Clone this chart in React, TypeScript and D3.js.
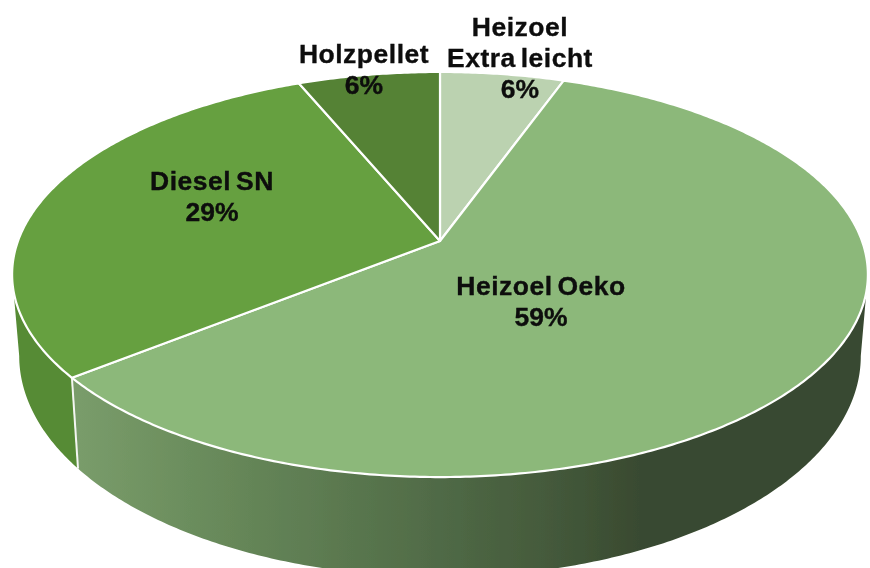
import React from "react";
import * as d3 from "d3";

const categories = ["Heizoel Extra leicht", "Heizoel Oeko", "Diesel SN", "Holzpellet"];
const shares = [5.5, 58.8, 29.4, 6.3];
const percentLabels = ["6%", "59%", "29%", "6%"];
const topColors = ["#bbd2b0", "#8cb87a", "#66a040", "#548235"];
const nameLines = [["Heizoel", "Extra leicht"], ["Heizoel Oeko"], ["Diesel SN"], ["Holzpellet"]];

const W = 870, H = 568;
const labelCenter = [
  { x: 520, y: 35.5 },
  { x: 541, y: 294.5 },
  { x: 212, y: 190 },
  { x: 364, y: 63 },
];
const lineStep = 31;

// perspective of a disc: k foreshortens far side vs near side
const k = 0.1654;
const cx = 440;
const topDisc = { apexY: 241, a: 422, b: 197 };
const lowDisc = { apexY: 319.4, a: 415, b: 214.9 };

type Disc = typeof topDisc;
const project = (d: Disc, t: number): [number, number] => {
  const u = Math.sin(t), v = Math.cos(t), den = 1 + k * v;
  return [cx + (d.a * u) / den, d.apexY - (d.b * v) / den];
};
const sample = (d: Disc, t0: number, t1: number): [number, number][] => {
  const n = Math.max(2, Math.ceil(Math.abs(t1 - t0) / 0.01));
  return d3.range(n + 1).map((i) => project(d, t0 + ((t1 - t0) * i) / n));
};
const line = d3.line();

const pie = d3.pie<number>().sort(null).value((v) => v);
const arcs = pie(shares);

const tR = Math.acos(-k);
const tL = 2 * Math.PI - tR;

function wallPath(t0: number, t1: number) {
  const a = Math.max(t0, tR), b = Math.min(t1, tL);
  if (a >= b) return null;
  return line([...sample(topDisc, a, b), ...sample(lowDisc, b, a)]) + "Z";
}

const wallFill = ["none", "url(#oekoWall)", "#568b34", "none"];
const gradStops: [number, string][] = [
  [0, "#7a9d6b"],
  [0.225, "#6a8c5c"],
  [0.577, "#54704a"],
  [0.859, "#43583a"],
  [1, "#394a30"],
];

export default function App() {
  return (
    <svg width={W} height={H} viewBox={`0 0 ${W} ${H}`} style={{ position: "fixed", left: 0, top: 0 }}>
      <defs>
        <linearGradient id="oekoWall" gradientUnits="userSpaceOnUse" x1={72} x2={640} y1={0} y2={0}>
          {gradStops.map(([o, c]) => (
            <stop key={o} offset={o} stopColor={c} />
          ))}
        </linearGradient>
        <filter id="soft" x="-5%" y="-5%" width="110%" height="110%">
          <feGaussianBlur stdDeviation="0.35" />
        </filter>
      </defs>
      <g filter="url(#soft)">
        {arcs.map((s, i) => {
          const p = wallPath(s.startAngle, s.endAngle);
          return p ? <path key={i} d={p} fill={wallFill[i]} /> : null;
        })}
        {arcs.map((s, i) =>
          s.startAngle > tR && s.startAngle < tL ? (
            <path
              key={i}
              d={line([project(topDisc, s.startAngle), project(lowDisc, s.startAngle)])!}
              stroke="#f4f6f2"
              strokeWidth={2}
              fill="none"
            />
          ) : null
        )}
        {arcs.map((s, i) => (
          <path
            key={categories[i]}
            d={line([[cx, topDisc.apexY], ...sample(topDisc, s.startAngle, s.endAngle)])! + "Z"}
            fill={topColors[i]}
            stroke="#ffffff"
            strokeWidth={2.2}
            strokeLinejoin="round"
          />
        ))}
      </g>
      <g
        fontFamily="'Liberation Sans', Arial, sans-serif"
        fontWeight="bold"
        fontSize={26.5}
        fill="#0a0a0a"
        stroke="#0a0a0a"
        strokeWidth={0.3}
        textAnchor="middle"
        filter="url(#soft)"
      >
        {categories.map((c, i) => (
          <text key={c} x={labelCenter[i].x} y={labelCenter[i].y}>
            {nameLines[i].map((t, j) => (
              <tspan
                key={j}
                x={labelCenter[i].x}
                y={labelCenter[i].y + j * lineStep}
                letterSpacing={0.5}
                wordSpacing={-3}
              >
                {t}
              </tspan>
            ))}
            <tspan x={labelCenter[i].x} y={labelCenter[i].y + nameLines[i].length * lineStep}>
              {percentLabels[i]}
            </tspan>
          </text>
        ))}
      </g>
    </svg>
  );
}
